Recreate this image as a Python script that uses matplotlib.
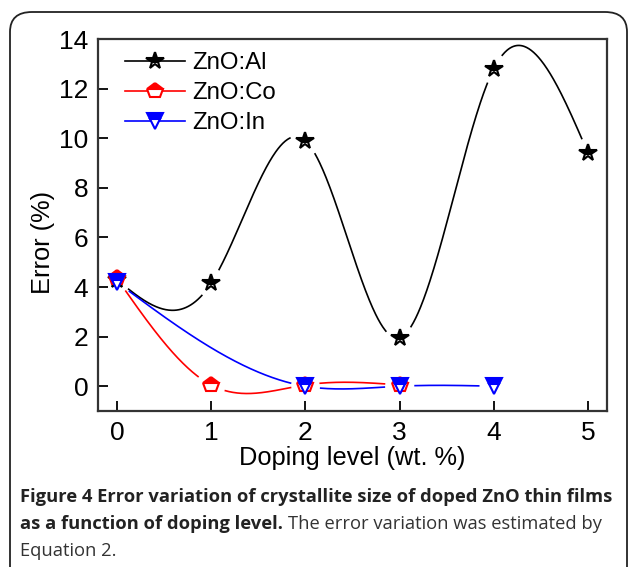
import numpy as np
import matplotlib
matplotlib.use('Agg')
import matplotlib.pyplot as plt
from matplotlib.patches import FancyBboxPatch

# data
doping = [0, 1, 2, 3, 4, 5]
err_al = [4.3, 4.15, 9.9, 1.95, 12.8, 9.4]
doping_co = [0, 1, 2, 3]
err_co = [4.35, 0.05, 0.05, 0.05]
doping_in = [0, 2, 3, 4]
err_in = [4.2, 0.0, 0.0, 0.0]

x_ticks = [0, 1, 2, 3, 4, 5]
y_ticks = [0, 2, 4, 6, 8, 10, 12, 14]


def natural_spline(x, y, xs):
    # plain natural cubic spline, like Origin's "spline" connection
    x = np.asarray(x, float)
    y = np.asarray(y, float)
    n = len(x)
    h = np.diff(x)
    A = np.zeros((n, n))
    b = np.zeros(n)
    A[0, 0] = 1
    A[-1, -1] = 1
    for i in range(1, n - 1):
        A[i, i - 1] = h[i - 1]
        A[i, i] = 2 * (h[i - 1] + h[i])
        A[i, i + 1] = h[i]
        b[i] = 6 * ((y[i + 1] - y[i]) / h[i] - (y[i] - y[i - 1]) / h[i - 1])
    m = np.linalg.solve(A, b)
    out = np.empty_like(xs)
    for k, xv in enumerate(xs):
        i = min(max(np.searchsorted(x, xv) - 1, 0), n - 2)
        t = xv - x[i]
        hi = h[i]
        a = (m[i + 1] - m[i]) / (6 * hi)
        bb = m[i] / 2
        c = (y[i + 1] - y[i]) / hi - hi * (2 * m[i] + m[i + 1]) / 6
        out[k] = y[i] + c * t + bb * t ** 2 + a * t ** 3
    return out


plt.rcParams['font.family'] = ['Liberation Sans', 'DejaVu Sans']

fig = plt.figure(figsize=(6.29, 5.67), dpi=100)
ax = fig.add_axes([0.1558, 0.2751, 0.809, 0.656])
ax.set_xlim(-0.2, 5.2)
ax.set_ylim(-1, 14)

# rounded frame round figure + caption
frame = FancyBboxPatch((10 / 629, -0.05), 617 / 629, 1 - 12 / 567 + 0.05,
                       boxstyle='round,pad=0,rounding_size=0.035',
                       transform=fig.transFigure, fill=False,
                       edgecolor='#222222', linewidth=1.3, clip_on=False)
fig.patches.append(frame)

series = [
    (doping, err_al, 'black', '*', 13, 'ZnO:Al'),
    (doping_co, err_co, 'red', 'p', 11.5, 'ZnO:Co'),
    (doping_in, err_in, 'blue', 'v', 12, 'ZnO:In'),
]

fig.canvas.draw()
for xd, yd, col, mk, ms, lab in series:
    xs = np.linspace(xd[0], xd[-1], 600)
    ys = natural_spline(xd, yd, xs)
    # break the line near each marker (Origin style gap)
    pc = ax.transData.transform(np.column_stack([xs, ys]))
    pm = ax.transData.transform(np.column_stack([xd, yd]))
    d = np.min(np.hypot(pc[:, None, 0] - pm[None, :, 0],
                        pc[:, None, 1] - pm[None, :, 1]), axis=1)
    ys = np.where(d < 15, np.nan, ys)
    ax.plot(xs, ys, color=col, lw=1.2)
    ax.plot(xd, yd, ls='none', marker=mk, ms=ms, mec=col, mfc=col,
            fillstyle='top', markerfacecoloralt='white', mew=1.5)
    ax.plot([], [], color=col, lw=1.2, marker=mk, ms=ms, mec=col, mfc=col,
            fillstyle='top', markerfacecoloralt='white', mew=1.5, label=lab)

ax.set_xticks(x_ticks)
ax.set_yticks(y_ticks)
ax.tick_params(direction='in', length=7, width=1.3, labelsize=19,
               top=False, right=False, pad=7)
for s in ax.spines.values():
    s.set_linewidth(1.6)
    s.set_color('#333333')

ax.set_xlabel('Doping level (wt. %)', fontsize=18.3, labelpad=1)
ax.set_ylabel('Error (%)', fontsize=18.3)
ax.yaxis.set_label_coords(-0.085, 0.454)

ax.legend(loc='upper left', bbox_to_anchor=(0.035, 0.99), frameon=False,
          fontsize=17.3, handlelength=2.5, handletextpad=0.3,
          labelspacing=0.33, borderaxespad=0)

cap_font = ['Open Sans', 'DejaVu Sans']
fig.text(20 / 629, 1 - 497 / 567, 'Figure 4 Error variation of crystallite size of doped ZnO thin films',
         fontsize=13.2, fontweight='bold', family=cap_font, va='center', color='#222222')
t2 = fig.text(20 / 629, 1 - 524 / 567, 'as a function of doping level.',
              fontsize=13.2, fontweight='bold', family=cap_font, va='center', color='#222222')
fig.canvas.draw()
bb = t2.get_window_extent()
fig.text((bb.x1 + 5) / 629, 1 - 524 / 567, 'The error variation was estimated by',
         fontsize=13.2, family=cap_font, va='center', color='#333333')
fig.text(20 / 629, 1 - 551 / 567, 'Equation 2.',
         fontsize=13.2, family=cap_font, va='center', color='#333333')

plt.savefig('out.png', dpi=100)
